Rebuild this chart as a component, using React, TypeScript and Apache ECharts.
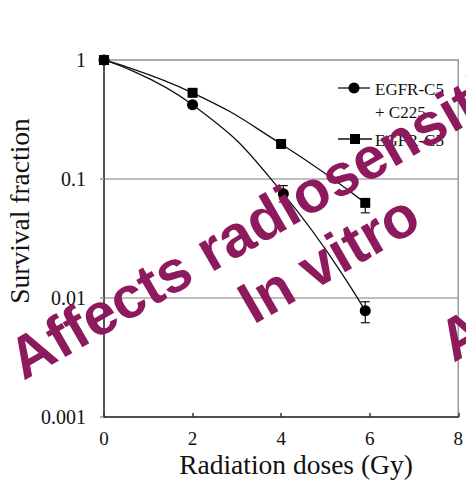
import React, { useEffect, useRef } from "react";
import * as echarts from "echarts";

// ---- data ----
const xC225 = [0, 2, 4.05, 5.9];
const survC225 = [1, 0.42, 0.075, 0.0078];
const xC5 = [0, 2, 4, 5.9];
const survC5 = [1, 0.53, 0.197, 0.063];

// error bars: [x, low, high]
const errC225X = [4.05, 5.9];
const errC225Lo = [0.064, 0.0062];
const errC225Hi = [0.088, 0.0093];
const errC5X = [5.9];
const errC5Lo = [0.052];
const errC5Hi = [0.068];

const yTickLabels = ["0.001", "0.01", "0.1", "1"];
const xTickLabels = ["0", "2", "4", "6", "8"];

const seriesNames = ["EGFR-C5 + C225", "EGFR-C5"];

const SERIF = "Liberation Serif";
const SANS = "Liberation Sans";
const WM = "#8c1a5c";

export default function App() {
  const ref = useRef<HTMLDivElement>(null);
  useEffect(() => {
    if (!ref.current) return;
    const chart = echarts.init(ref.current, undefined, { renderer: "svg" });

    const errRender = (params: any, api: any) => {
      const x = api.value(0);
      const lo = api.value(1);
      const hi = api.value(2);
      const p1 = api.coord([x, lo]);
      const p2 = api.coord([x, hi]);
      const hw = 4.5;
      const st = { stroke: "#111", lineWidth: 1.2 };
      return {
        type: "group",
        children: [
          { type: "line", shape: { x1: p1[0], y1: p1[1], x2: p2[0], y2: p2[1] }, style: st },
          { type: "line", shape: { x1: p1[0] - hw, y1: p1[1], x2: p1[0] + hw, y2: p1[1] }, style: st },
          { type: "line", shape: { x1: p2[0] - hw, y1: p2[1], x2: p2[0] + hw, y2: p2[1] }, style: st },
        ],
      };
    };

    const rot = (30 * Math.PI) / 180;
    const WMSIZE = 59;
    const wmText = (text: string, bx: number, by: number) => {
      const off = 0.22 * WMSIZE;
      return {
        type: "text",
        x: bx - off * Math.sin(rot),
        y: by - off * Math.cos(rot),
        rotation: rot,
        z: 100,
        silent: true,
        style: {
          text,
          x: 0,
          y: 0,
          fill: WM,
          fontFamily: SANS,
          fontWeight: "bold",
          fontSize: WMSIZE,
          align: "left",
          verticalAlign: "middle",
        },
      };
    };

    const plainText = (text: string, x: number, y: number, size: number, align: string, rotation = 0) => ({
      type: "text",
      x,
      y,
      rotation,
      z: 50,
      style: {
        text,
        fill: "#111",
        fontFamily: SERIF,
        fontSize: size,
        align,
        verticalAlign: "middle",
      },
    });

    chart.setOption({
      animation: false,
      backgroundColor: "#fff",
      grid: {
        left: 104,
        right: 3,
        top: 60,
        bottom: 65,
        show: true,
        borderColor: "#9a9a9a",
        borderWidth: 1.5,
        backgroundColor: "transparent",
      },
      xAxis: {
        type: "value",
        min: 0,
        max: 8,
        interval: 2,
        axisLine: { show: true, onZero: false, lineStyle: { color: "#333", width: 1.5 } },
        axisTick: { show: true, inside: true, length: 4, lineStyle: { color: "#333", width: 1.5 } },
        axisLabel: {
          fontSize: 19,
          fontFamily: SERIF,
          color: "#111",
          margin: 12,
          formatter: (v: number) => xTickLabels[Math.round(v / 2)] ?? String(v),
        },
        splitLine: { show: false },
      },
      yAxis: {
        type: "log",
        logBase: 10,
        min: 0.001,
        max: 1,
        axisLine: { show: true, onZero: false, lineStyle: { color: "#333", width: 1.5 } },
        axisTick: { show: true, inside: false, length: 4, lineStyle: { color: "#9a9a9a", width: 1.5 } },
        axisLabel: {
          fontSize: 20,
          fontFamily: SERIF,
          color: "#111",
          margin: 18,
          formatter: (v: number) => yTickLabels[Math.round(Math.log10(v)) + 3] ?? String(v),
        },
        splitLine: { show: true, lineStyle: { color: "#a8a8a8", width: 1.5 } },
        minorTick: { show: false },
      },
      series: [
        {
          name: seriesNames[0],
          type: "line",
          data: xC225.map((x, i) => [x, survC225[i]]),
          smooth: 0.5,
          symbol: "circle",
          symbolSize: 11,
          itemStyle: { color: "#000" },
          lineStyle: { color: "#111", width: 1.3 },
          z: 3,
        },
        {
          name: seriesNames[1],
          type: "line",
          data: xC5.map((x, i) => [x, survC5[i]]),
          smooth: 0.5,
          symbol: "rect",
          symbolSize: 10,
          itemStyle: { color: "#000" },
          lineStyle: { color: "#111", width: 1.3 },
          z: 3,
        },
        {
          type: "custom",
          renderItem: errRender,
          data: errC225X.map((x, i) => [x, errC225Lo[i], errC225Hi[i]]),
          encode: { x: 0, y: [1, 2] },
          z: 2,
          silent: true,
        },
        {
          type: "custom",
          renderItem: errRender,
          data: errC5X.map((x, i) => [x, errC5Lo[i], errC5Hi[i]]),
          encode: { x: 0, y: [1, 2] },
          z: 2,
          silent: true,
        },
      ],
      graphic: [
        plainText("Survival fraction", 19, 211, 27.5, "center", Math.PI / 2),
        plainText("Radiation doses (Gy)", 296, 464, 27.5, "center"),
        // legend
        { type: "line", shape: { x1: 338, y1: 88, x2: 370, y2: 88 }, style: { stroke: "#111", lineWidth: 1.3 }, z: 50 },
        { type: "circle", shape: { cx: 354, cy: 88, r: 5.5 }, style: { fill: "#000" }, z: 50 },
        plainText("EGFR-C5", 375, 89, 17, "left"),
        plainText("+ C225", 375, 112, 17, "left"),
        { type: "line", shape: { x1: 338, y1: 139, x2: 372, y2: 139 }, style: { stroke: "#111", lineWidth: 1.3 }, z: 50 },
        { type: "rect", shape: { x: 350, y: 134, width: 10, height: 10 }, style: { fill: "#000" }, z: 50 },
        plainText("EGFR-C5", 375, 140, 17, "left"),
        // watermark
        wmText("Affects radiosensitivity", 20, 375),
        wmText("In vitro", 250, 319),
        wmText("A", 450, 357),
      ],
    });
    return () => chart.dispose();
  }, []);
  return (
    <div
      ref={ref}
      style={{ position: "absolute", left: 0, top: 0, width: 466, height: 482 }}
    />
  );
}
